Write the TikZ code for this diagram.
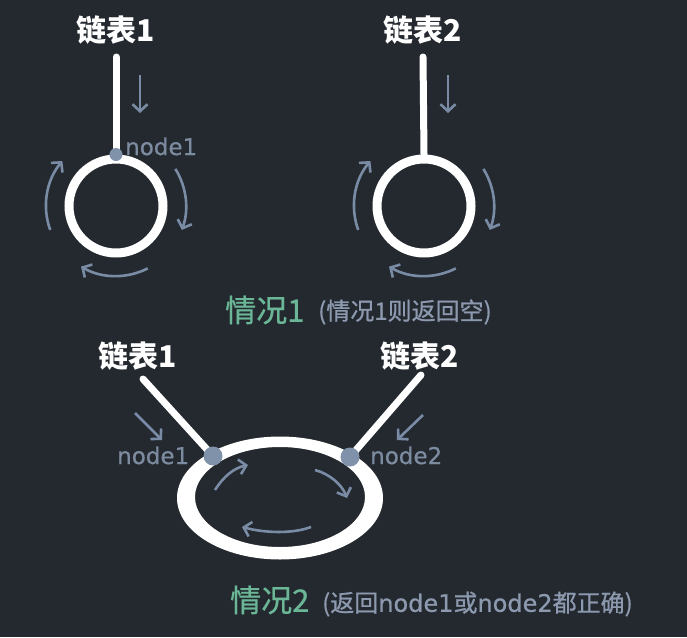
\documentclass[tikz,border=0pt]{standalone}
\usepackage{fontspec}
\setmainfont{Noto Sans CJK SC}
\newfontfamily\latfont{DejaVu Sans}
\newfontfamily\latfontb{DejaVu Sans}[FakeBold=0.6]
\newfontfamily\cjkm{Noto Sans CJK SC}[FakeBold=0.8]
\usetikzlibrary{arrows.meta,calc}
\definecolor{bgc}{RGB}{35,41,47}
\definecolor{flowc}{RGB}{122,140,165}
\definecolor{dotc}{RGB}{128,146,170}
\definecolor{labc}{RGB}{125,139,160}
\definecolor{greenc}{RGB}{106,182,150}
\definecolor{capc}{RGB}{140,153,174}
\begin{document}
\begin{tikzpicture}[x=1pt,y=-1pt,
  title/.style={text=white,font=\fontsize{30}{30}\selectfont\bfseries,inner sep=0pt},
  ring/.style={circle,draw=white,line width=9pt,minimum size=94pt,inner sep=0pt},
  stem/.style={draw=white,line width=7pt,line cap=round},
  flow/.style={draw=flowc,line width=2.6pt,-{Straight Barb[length=7pt,width=15pt]}},
  dotn/.style={circle,fill=dotc,inner sep=0pt},
  lab/.style={text=labc,font=\latfontb\fontsize{23}{23}\selectfont,inner sep=0pt},
  case/.style={text=greenc,font=\cjkm\fontsize{31}{31}\selectfont,inner sep=0pt},
  capt/.style={text=capc,font=\cjkm\fontsize{24}{24}\selectfont,inner sep=0pt}
]
\fill[bgc] (0,0) rectangle (687,637);
\useasboundingbox (0,0) rectangle (687,637);

% ---------- case 1, left ----------
\node[title] (l1) at (116,30) {链表1};
\coordinate (t1) at (116,57);
\node[ring] (c1) at (116,206) {};
\draw[stem] (t1) -- (c1.north);
\node[dotn,minimum size=13pt] (d1) at (c1.north) {};
\node[lab,anchor=base west] (n1) at (125,155) {node1};
\coordinate (a1s) at (140,75);
\coordinate (a1e) at (140,113);
\draw[flow] (a1s) -- (a1e);
\draw[flow] ($(c1)+(160:70)$) arc[start angle=160,end angle=220,radius=70];
\draw[flow] ($(c1)+(-32:70)$) arc[start angle=-32,end angle=20,radius=70];
\draw[flow] ($(c1)+(63:70)$) arc[start angle=63,end angle=120,radius=70];

% ---------- case 1, right ----------
\node[title] (l2) at (423,30) {链表2};
\coordinate (t2) at (423,57);
\node[ring] (c2) at (424,206) {};
\draw[stem] (t2) -- (c2.north);
\coordinate (a2s) at (448,75);
\coordinate (a2e) at (448,113);
\draw[flow] (a2s) -- (a2e);
\draw[flow] ($(c2)+(160:70)$) arc[start angle=160,end angle=220,radius=70];
\draw[flow] ($(c2)+(-32:70)$) arc[start angle=-32,end angle=20,radius=70];
\draw[flow] ($(c2)+(63:70)$) arc[start angle=63,end angle=120,radius=70];

\node[case,anchor=west] (k1) at (225,310) {情况1};
\node[capt,anchor=west] (p1) at (318,312) {(情况1则返回空)};

% ---------- case 2 ----------
\coordinate (e) at (280,498);
\coordinate (ei) at (280,497);
\fill[white,even odd rule] (e) ellipse[x radius=103,y radius=61.5]
                           (ei) ellipse[x radius=85,y radius=50];
\node[title] (l3) at (138,356) {链表1};
\node[title] (l4) at (420,356) {链表2};
\coordinate (t3) at (143,379);
\coordinate (t4) at (421,375);
\coordinate (d2) at (213,456);
\coordinate (d3) at (350,457);
\draw[stem] (t3) -- (d2);
\draw[stem] (t4) -- (d3);
\node[dotn,minimum size=19pt] (dd2) at (d2) {};
\node[dotn,minimum size=19pt] (dd3) at (d3) {};
\node[lab,anchor=base west] (n2) at (117,464) {node1};
\node[lab,anchor=base west] (n3) at (370,464) {node2};
\coordinate (a3s) at (135,413);
\coordinate (a3e) at (162,440);
\coordinate (a4s) at (423,415);
\coordinate (a4e) at (397,440);
\draw[flow] (a3s) -- (a3e);
\draw[flow] (a4s) -- (a4e);
\draw[flow] (215,490) .. controls (224,476) and (234,468) .. (248,465);
\draw[flow] (315,470) .. controls (330,474) and (342,485) .. (347,498);
\draw[flow] (311,527) .. controls (292,534) and (265,533) .. (242,527);

\node[case,anchor=west] (k2) at (230,600) {情况2};
\node[capt,anchor=west] (p2) at (322,604) {(返回{\latfontb node1}或{\latfontb node2}都正确)};
\end{tikzpicture}
\end{document}
